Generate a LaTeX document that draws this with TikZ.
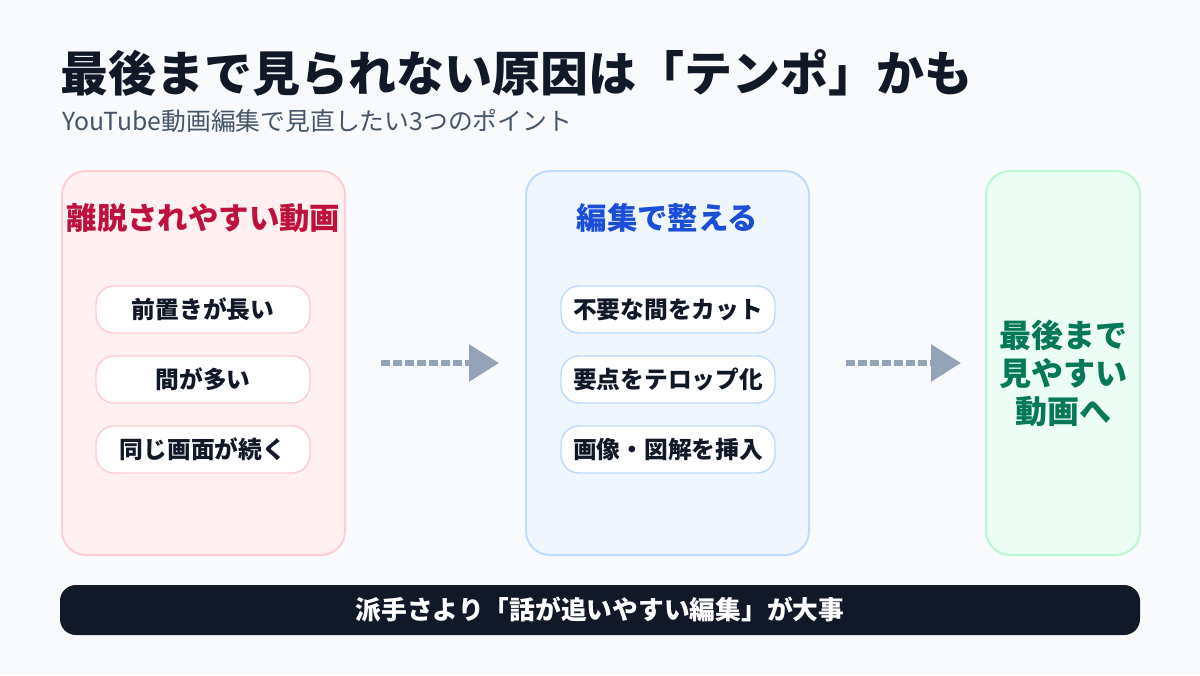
\documentclass[tikz,border=0pt]{standalone}
\usepackage{fontspec}
\setmainfont{Noto Sans CJK JP}
\usepackage{tikz}
\usetikzlibrary{positioning, arrows.meta}
\usepackage{xcolor}

\definecolor{bgpage}{HTML}{F8FAFC}
\definecolor{ink}{HTML}{111827}
\definecolor{subgray}{HTML}{475569}
\definecolor{badfill}{HTML}{FFF1F2}
\definecolor{badline}{HTML}{FECDD3}
\definecolor{badtext}{HTML}{BE123C}
\definecolor{editfill}{HTML}{EFF6FF}
\definecolor{editline}{HTML}{BFDBFE}
\definecolor{edittext}{HTML}{1D4ED8}
\definecolor{goodfill}{HTML}{ECFDF5}
\definecolor{goodline}{HTML}{BBF7D0}
\definecolor{goodtext}{HTML}{047857}
\definecolor{flowgray}{HTML}{94A3B8}

\begin{document}
\begin{tikzpicture}[
    x=0.75pt, y=-0.75pt,
    panel/.style={rounded corners=18pt, line width=1.5pt, minimum height=288pt, inner sep=0pt},
    pill/.style={rounded corners=13.5pt, line width=1.1pt, fill=white, minimum width=160.5pt, minimum height=35.25pt,
                 inner sep=0pt, text=ink, font=\bfseries\fontsize{17.8pt}{21pt}\selectfont},
    head/.style={inner sep=0pt, font=\bfseries\fontsize{22.8pt}{27pt}\selectfont},
    flow/.style={draw=flowgray, line width=4.5pt, dash pattern=on 6.75pt off 2.25pt,
                 -{Triangle[length=22.5pt, width=27pt, fill=flowgray]}}
]

  % --- BACKGROUND ---
  \fill[bgpage] (0,0) rectangle (1200,675);
  \useasboundingbox (0,0) rectangle (1200,675);

  % --- HEADING ---
  \node[anchor=west, inner sep=0pt, text=ink, font=\bfseries\fontsize{36pt}{40pt}\selectfont] (title) at (60,73)
    {最後まで見られない原因は「テンポ」かも};
  \node[anchor=west, inner sep=0pt, text=subgray, font=\fontsize{18.6pt}{22pt}\selectfont] (subtitle) at (62,121)
    {YouTube動画編集で見直したい3つのポイント};

  % --- LEFT PANEL ---
  \node[panel, fill=badfill, draw=badline, minimum width=212.25pt] (bad) at (203.5,363) {};
  \node[head, text=badtext] (badhead) at (203.5,218) {離脱されやすい動画};
  \node[pill, draw=badline] (bad1) at (203,309.5) {前置きが長い};
  \node[pill, draw=badline] (bad2) at (203,379.5) {間が多い};
  \node[pill, draw=badline] (bad3) at (203,449.5) {同じ画面が続く};

  % --- MIDDLE PANEL ---
  \node[panel, fill=editfill, draw=editline, minimum width=212.25pt] (edit) at (667.5,363) {};
  \node[head, text=edittext] (edithead) at (667.5,218) {編集で整える};
  \node[pill, draw=editline] (edit1) at (668,309.5) {不要な間をカット};
  \node[pill, draw=editline] (edit2) at (668,379.5) {要点をテロップ化};
  \node[pill, draw=editline] (edit3) at (668,449.5) {画像・図解を挿入};

  % --- RIGHT PANEL ---
  \node[panel, fill=goodfill, draw=goodline, minimum width=115.5pt] (good) at (1063,363) {};
  \node[inner sep=0pt, align=center, text=goodtext, font=\bfseries\fontsize{24pt}{28.5pt}\selectfont] (goodtext) at (1063,373)
    {最後まで\\見やすい\\動画へ};

  % --- ARROWS ---
  \draw[flow, shorten <=26.25pt, shorten >=19.5pt] (bad) -- (edit);
  \draw[flow, shorten <=27pt, shorten >=18pt] (edit) -- (good);

  % --- BOTTOM BAR ---
  \node[fill=ink, rounded corners=12pt, minimum width=810pt, minimum height=37.5pt, inner sep=0pt,
        text=white, font=\bfseries\fontsize{19.3pt}{23pt}\selectfont] (bar) at (600,610)
    {派手さより「話が追いやすい編集」が大事};
\end{tikzpicture}
\end{document}
